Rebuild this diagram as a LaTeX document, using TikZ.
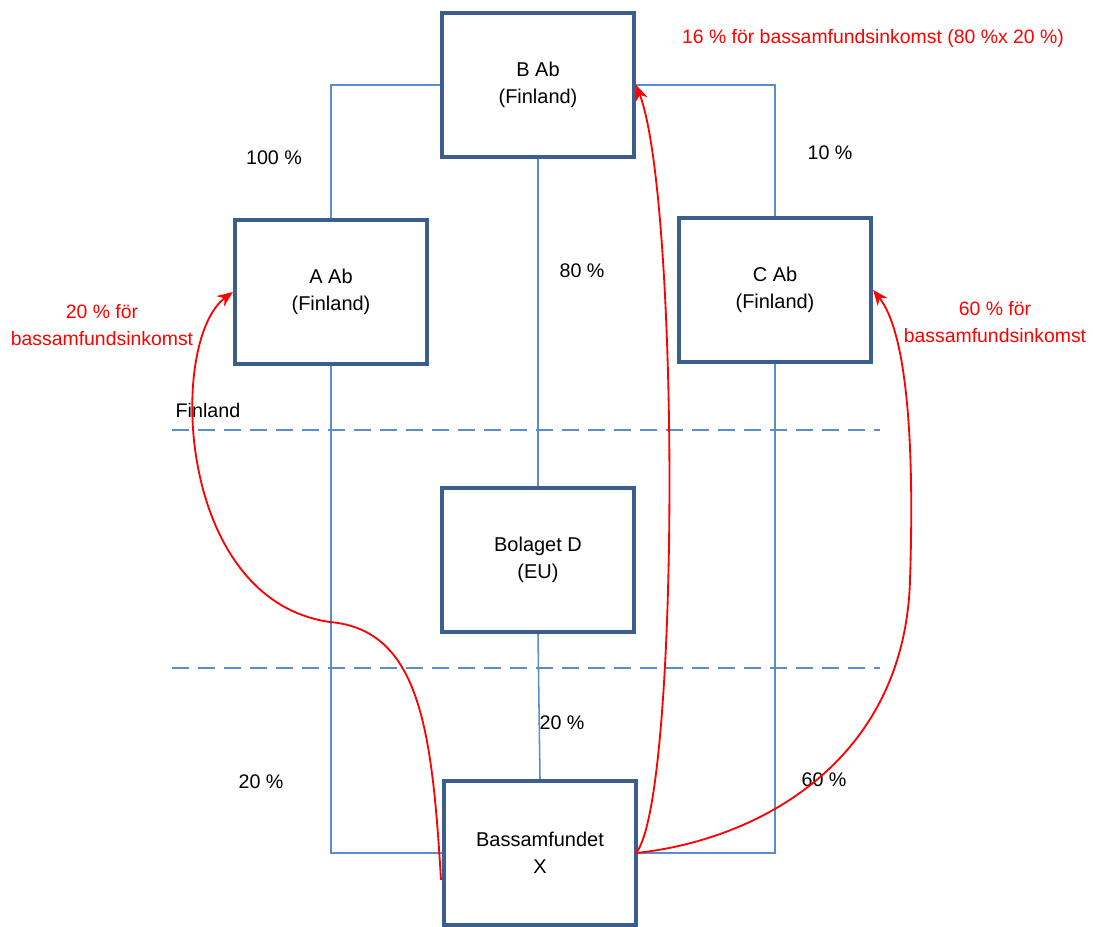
\documentclass[tikz,border=0pt]{standalone}
\usepackage{fontspec}
\setmainfont{Liberation Sans}
\usetikzlibrary{arrows.meta}
\definecolor{boxblue}{HTML}{3B5E8C}
\definecolor{lineblue}{HTML}{5B8CCB}
\definecolor{arrred}{HTML}{FF0000}
\tikzset{
  ent/.style={draw=boxblue, line width=3pt, fill=white, minimum width=4.8cm, minimum height=3.6cm, align=center, font=\fontsize{14.2}{19.5}\selectfont, inner sep=0pt},
  conn/.style={draw=lineblue, line width=1.1pt},
  border/.style={draw=lineblue, line width=1.4pt, dash pattern=on 12pt off 6.5pt},
  pct/.style={font=\fontsize{14}{17}\selectfont, text=black, inner sep=0pt},
  rlab/.style={font=\fontsize{13.8}{19}\selectfont, text=arrred, align=center, inner sep=0pt},
  rarr/.style={draw=arrred, line width=1.3pt, -{Stealth[length=11pt,width=9pt]}}
}
\begin{document}
\begin{tikzpicture}[x=0.025cm, y=-0.025cm]
\useasboundingbox (0,0) rectangle (1093,927);
% dashed borders
\draw[border] (172,430) -- (880,430);
\draw[border] (172,668) -- (880,668);
% coordinates for connectors
\coordinate (bl) at (331,85);
\coordinate (br) at (775,85);
\coordinate (xl) at (331,853);
\coordinate (xr) at (775,853);
% nodes
\node[ent] (B) at (538,85) {B Ab\\(Finland)};
\node[ent] (A) at (331,292) {A Ab\\(Finland)};
\node[ent] (C) at (775,290) {C Ab\\(Finland)};
\node[ent] (D) at (538,560) {Bolaget D\\(EU)};
\node[ent] (X) at (540,853) {Bassamfundet\\X};
% connectors
\draw[conn] (B.west) -- (bl) -- (A.north);
\draw[conn] (B.east) -- (br) -- (C.north);
\draw[conn] (B.south) -- (D.north);
\draw[conn] (D.south) -- (X.north);
\draw[conn] (A.south) -- (xl) -- (X.west);
\draw[conn] (C.south) -- (xr) -- (X.east);
% redraw boxes on top
\node[ent] at (538,85) {B Ab\\(Finland)};
\node[ent] at (331,292) {A Ab\\(Finland)};
\node[ent] at (775,290) {C Ab\\(Finland)};
\node[ent] at (538,560) {Bolaget D\\(EU)};
\node[ent] at (540,853) {Bassamfundet\\X};
% percentage labels
\node[pct] (p100) at (274,158) {100 \%};
\node[pct] (p10) at (830,153) {10 \%};
\node[pct] (p80) at (582,271) {80 \%};
\node[pct] (p20d) at (562,723) {20 \%};
\node[pct] (p20a) at (261,782) {20 \%};
\node[pct] (p60) at (824,780) {60 \%};
\node[pct] (fin) at (208,410) {Finland};
% red labels
\node[rlab] (r16) at (873,38) {16 \% för bassamfundsinkomst (80 \%x 20 \%)};
\node[rlab] (r20) at (102,325) {20 \% för\\bassamfundsinkomst};
\node[rlab] (r60) at (995,322) {60 \% för\\bassamfundsinkomst};
% red arrows
\coordinate (s1) at (441,880);
\coordinate (s2) at (636,853);
\draw[rarr] (s1) .. controls (432,730) and (420,630) .. (330,622)
  .. controls (175,600) and (168,340) .. (A.west);
\draw[rarr] (s2) .. controls (680,800) and (680,200) .. (B.east);
\draw[rarr] (s2) .. controls (760,840) and (905,760) .. (910,580)
  .. controls (915,430) and (905,330) .. (C.east);
\end{tikzpicture}
\end{document}
